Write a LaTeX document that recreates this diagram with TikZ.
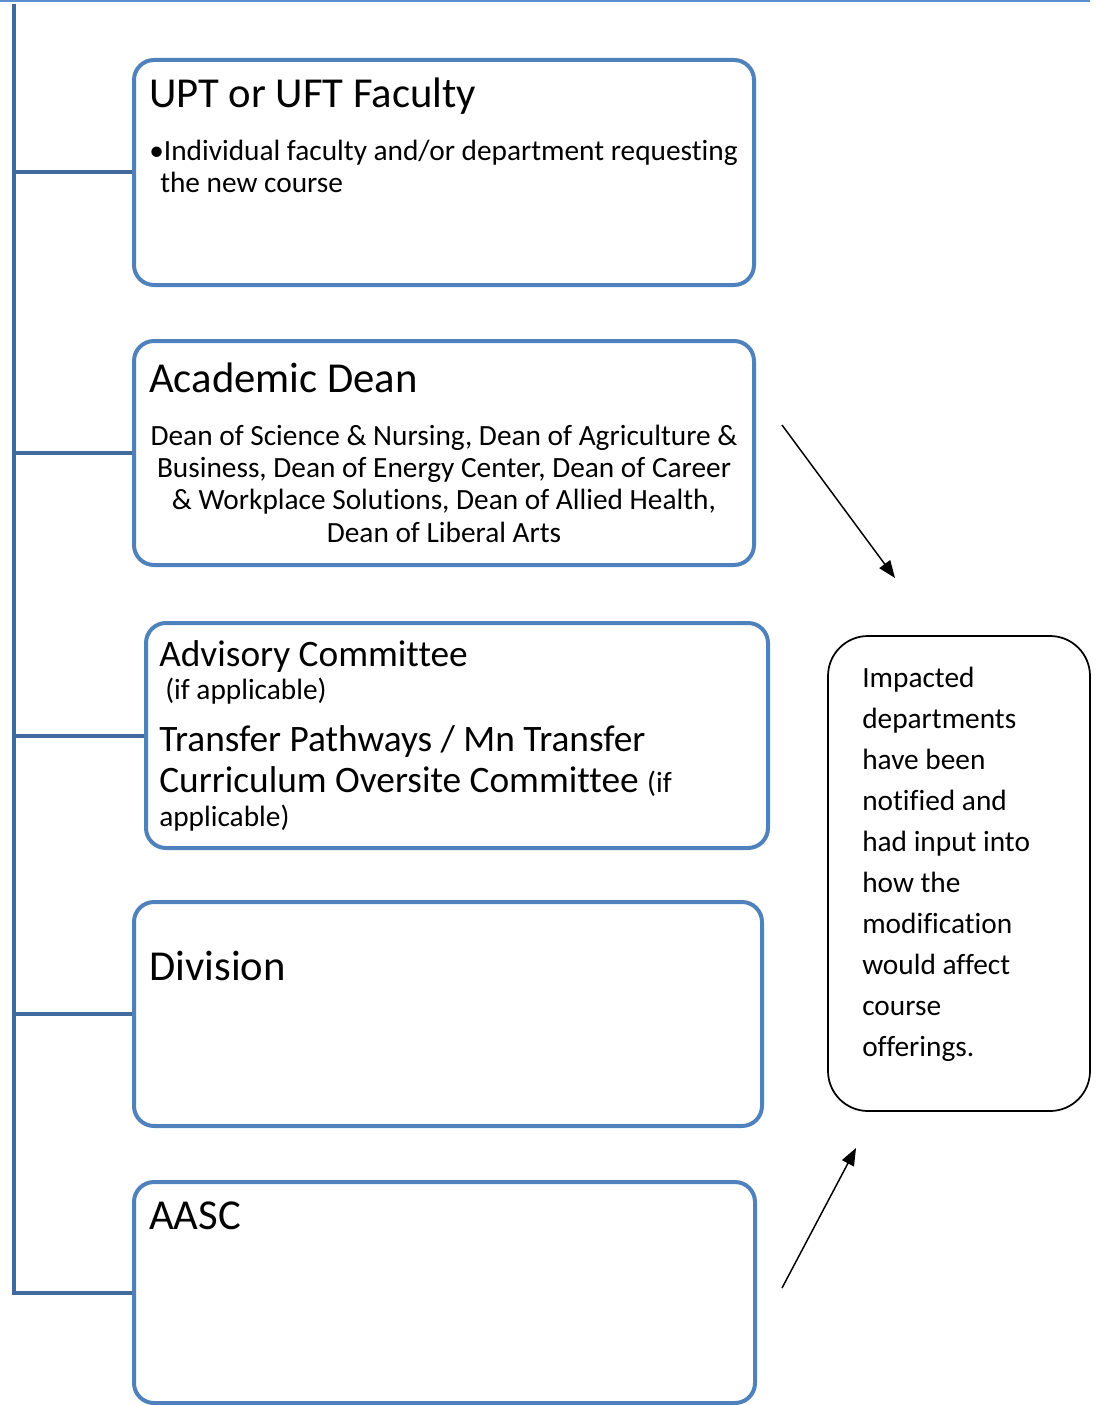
\documentclass[tikz,border=0pt]{standalone}
\usepackage{fontspec}
\setmainfont{Carlito}[Ligatures=NoCommon]
\usetikzlibrary{fit,arrows.meta}
\definecolor{boxblue}{RGB}{79,129,189}
\definecolor{trunkblue}{RGB}{65,106,158}
\definecolor{topblue}{RGB}{91,143,208}
\begin{document}
\begin{tikzpicture}[x=0.75pt,y=-0.75pt,
  box/.style={draw=boxblue,line width=3pt,rounded corners=15pt,inner sep=0pt},
  sidebox/.style={draw=black,line width=1.3pt,rounded corners=30pt,inner sep=0pt},
  trunk/.style={draw=trunkblue,line width=3pt},
  flow/.style={draw=black,line width=1.1pt,-{Triangle[length=13pt,width=10pt]}},
  ttl/.style={inner sep=0pt,anchor=base west,font=\fontsize{32}{38}\selectfont},
  bod/.style={inner sep=0pt,anchor=base west,font=\fontsize{22}{26}\selectfont},
  cbod/.style={inner sep=0pt,anchor=base,font=\fontsize{22}{26}\selectfont},
  mid/.style={inner sep=0pt,anchor=base west,font=\fontsize{28}{34}\selectfont}]
\useasboundingbox (0,0) rectangle (1095,1405);
% top edge line
\coordinate (tl) at (0,1);
\coordinate (tr) at (1090,1);
\draw[topblue,line width=2pt] (tl) -- (tr);
% boxes
\node (b1) [box,fit={(134,60) (754,285)}] {};
\node (b2) [box,fit={(134,341) (754,565)}] {};
\node (b3) [box,fit={(146,623) (768,848)}] {};
\node (b4) [box,fit={(134,902) (762,1126)}] {};
\node (b5) [box,fit={(134,1182) (755,1403)}] {};
\node (side) [sidebox,fit={(828,636) (1090,1111)}] {};
% trunk
\coordinate (top) at (14,4);
\draw[trunk] (top) |- (b5.west);
\draw[trunk] (b1.west) -- (b1.west -| top);
\draw[trunk] (b2.west) -- (b2.west -| top);
\draw[trunk] (b3.west) -- (b3.west -| top);
\draw[trunk] (b4.west) -- (b4.west -| top);
% box 1
\node (t1) [ttl] at (149,108) {UPT or UFT Faculty};
\node (t1a) [bod] at (149,161) {\textbullet Individual faculty and/or department requesting};
\node (t1b) [bod] at (160,193) {the new course};
% box 2
\node (t2) [ttl] at (149,392) {Academic Dean};
\node (t2a) [cbod] at (444,445) {Dean of Science \& Nursing, Dean of Agriculture \&};
\node (t2b) [cbod] at (444,477) {Business, Dean of Energy Center, Dean of Career};
\node (t2c) [cbod] at (444,509) {\& Workplace Solutions, Dean of Allied Health,};
\node (t2d) [cbod] at (444,542) {Dean of Liberal Arts};
% box 3
\node (t3) [mid] at (159,666) {Advisory Committee};
\node (t3a) [bod] at (165,699) {(if applicable)};
\node (t3b) [mid] at (159,751) {Transfer Pathways / Mn Transfer};
\node (t3c) [mid] at (159,792) {Curriculum Oversite Committee {\fontsize{22}{26}\selectfont(if}};
\node (t3d) [bod] at (159,826) {applicable)};
% box 4, 5
\node (t4) [ttl] at (149,980) {Division};
\node (t5) [ttl] at (149,1229) {AASC};
% side text
\foreach \t [count=\i] in {Impacted,departments,have been,notified and,had input into,how the,modification,would affect,course,offerings.}
  \node (s\i) [bod] at (862,{687+41.1*(\i-1)}) {\t};
% arrows
\coordinate (a1s) at (782,425);
\coordinate (a1e) at (895,578);
\coordinate (a2s) at (782,1288);
\coordinate (a2e) at (856,1148);
\draw[flow] (a1s) -- (a1e);
\draw[flow] (a2s) -- (a2e);
\end{tikzpicture}
\end{document}
